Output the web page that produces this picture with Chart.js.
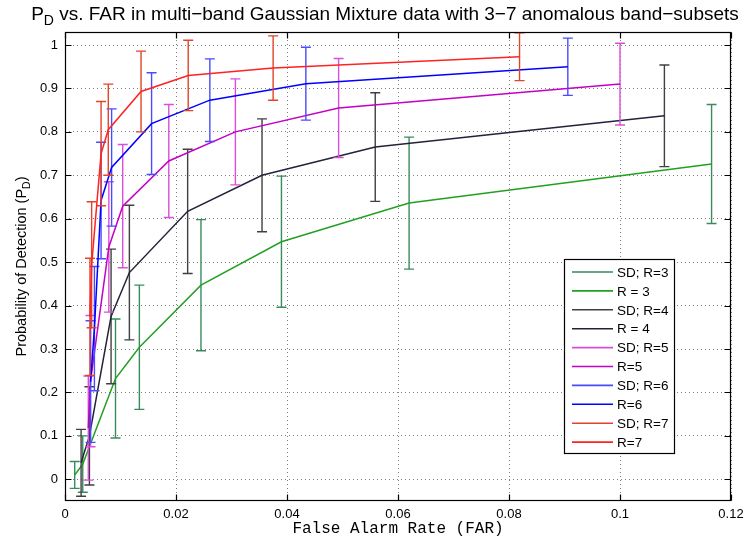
<!DOCTYPE html>
<html>
<head>
<meta charset="utf-8">
<script src="https://cdn.jsdelivr.net/npm/chart.js@4.4.0/dist/chart.umd.min.js"></script>
<style>
body { margin: 0; background: #fff; }
#wrap { width: 746px; height: 540px; }
</style>
</head>
<body>
<div id="wrap"><canvas id="myChart"></canvas></div>
<script>
// FAR (x), PD (y) and standard deviation for R = 3..7 anomalous band-subsets
const far3 = [0.00175, 0.0032, 0.0091, 0.0134, 0.0245, 0.039, 0.062, 0.1165];
const pd3  = [0.01, 0.035, 0.232, 0.304, 0.447, 0.547, 0.636, 0.726];
const sd3  = [0.031, 0.065, 0.137, 0.143, 0.151, 0.151, 0.152, 0.137];

const far4 = [0.0029, 0.0044, 0.0083, 0.0116, 0.0221, 0.0355, 0.0559, 0.108];
const pd4  = [0.038, 0.10, 0.375, 0.476, 0.617, 0.70, 0.765, 0.837];
const sd4  = [0.077, 0.113, 0.155, 0.155, 0.143, 0.13, 0.125, 0.117];

const far5 = [0.0042, 0.0046, 0.0079, 0.0104, 0.0187, 0.0307, 0.0493, 0.100];
const pd5  = [0.118, 0.226, 0.535, 0.629, 0.733, 0.80, 0.855, 0.91];
const sd5  = [0.12, 0.151, 0.15, 0.142, 0.13, 0.122, 0.114, 0.094];

const far6 = [0.0046, 0.0053, 0.0065, 0.0084, 0.0156, 0.0261, 0.0434, 0.0906];
const pd6  = [0.225, 0.347, 0.642, 0.718, 0.819, 0.873, 0.911, 0.95];
const sd6  = [0.14, 0.143, 0.134, 0.135, 0.117, 0.095, 0.084, 0.066];

const far7 = [0.0045, 0.0048, 0.0065, 0.0078, 0.0137, 0.0222, 0.0375, 0.0819];
const pd7  = [0.374, 0.494, 0.75, 0.805, 0.893, 0.93, 0.947, 0.973];
const sd7  = [0.135, 0.145, 0.12, 0.105, 0.093, 0.081, 0.074, 0.055];

const xTicks = [0, 0.02, 0.04, 0.06, 0.08, 0.1, 0.12];
const xTickLabels = ['0', '0.02', '0.04', '0.06', '0.08', '0.1', '0.12'];
const yTicks = [0, 0.1, 0.2, 0.3, 0.4, 0.5, 0.6, 0.7, 0.8, 0.9, 1];
const yTickLabels = ['0', '0.1', '0.2', '0.3', '0.4', '0.5', '0.6', '0.7', '0.8', '0.9', '1'];

const legendLabels = ['SD; R=3', 'R = 3', 'SD; R=4', 'R = 4', 'SD; R=5', 'R=5', 'SD; R=6', 'R=6', 'SD; R=7', 'R=7'];

const sdColors   = ['#3a8a5e', '#404040', '#d94fd9', '#4a4aff', '#e0452a'];
const lineColors = ['#22a022', '#22223a', '#c400c4', '#0000ff', '#ff2222'];

const series = [
  [far3, pd3, sd3], [far4, pd4, sd4], [far5, pd5, sd5], [far6, pd6, sd6], [far7, pd7, sd7]
];

var datasets = [];
series.forEach(function (s, k) {
  var pts = s[0].map(function (x, i) { return {x: x, y: s[1][i]}; });
  datasets.push({
    label: legendLabels[2 * k], data: pts, err: s[2], showLine: false, pointRadius: 0,
    borderColor: sdColors[k], order: 20 - 2 * k
  });
  datasets.push({
    label: legendLabels[2 * k + 1], data: pts, borderColor: lineColors[k], borderWidth: 1.5,
    pointRadius: 0, tension: 0, order: 19 - 2 * k
  });
});

const SANS = '"Liberation Sans", Arial, Helvetica, sans-serif';

// vertical error bars with small caps
const errorBars = {
  id: 'errorBars',
  afterDatasetDraw(chart, args) {
    const ds = chart.data.datasets[args.index];
    if (!ds.err) return;
    const xs = chart.scales.x, ys = chart.scales.y, c = chart.ctx;
    c.save();
    c.strokeStyle = ds.borderColor;
    c.lineWidth = 1.4;
    ds.data.forEach(function (p, i) {
      const px = xs.getPixelForValue(p.x);
      const top = ys.getPixelForValue(p.y + ds.err[i]);
      const bot = ys.getPixelForValue(p.y - ds.err[i]);
      c.beginPath();
      c.moveTo(px, top); c.lineTo(px, bot);
      c.moveTo(px - 5, top); c.lineTo(px + 5, top);
      c.moveTo(px - 5, bot); c.lineTo(px + 5, bot);
      c.stroke();
    });
    c.restore();
  }
};

// box, inward ticks, title, axis labels, legend
const frame = {
  id: 'frame',
  afterDraw(chart) {
    const c = chart.ctx, a = chart.chartArea;
    const xs = chart.scales.x, ys = chart.scales.y;
    c.save();
    c.strokeStyle = '#000';
    c.lineWidth = 1.2;
    const L = Math.round(a.left) + 0.5, R = Math.round(a.right) - 0.5;
    const T = Math.round(a.top) + 0.5, B = Math.round(a.bottom) - 0.5;
    c.strokeRect(L, T, R - L, B - T);
    c.beginPath();
    xTicks.forEach(function (v) {
      const px = Math.round(xs.getPixelForValue(v)) + 0.5;
      c.moveTo(px, B); c.lineTo(px, B - 6);
      c.moveTo(px, T); c.lineTo(px, T + 6);
    });
    yTicks.forEach(function (v) {
      const py = Math.round(ys.getPixelForValue(v)) + 0.5;
      c.moveTo(L, py); c.lineTo(L + 6, py);
      c.moveTo(R, py); c.lineTo(R - 6, py);
    });
    c.stroke();

    // title with subscript
    c.fillStyle = '#000';
    c.textBaseline = 'alphabetic';
    c.textAlign = 'left';
    const big = '19px ' + SANS, small = '14px ' + SANS;
    const rest = ' vs. FAR in multi\u2212band Gaussian Mixture data with 3\u22127 anomalous band\u2212subsets';
    c.font = big;
    const wP = c.measureText('P').width, wRest = c.measureText(rest).width;
    c.font = small;
    const wD = c.measureText('D').width;
    let tx = 385 - (wP + wD + wRest) / 2;
    const ty = 20;
    c.font = big; c.fillText('P', tx, ty); tx += wP;
    c.font = small; c.fillText('D', tx, ty + 5); tx += wD;
    c.font = big; c.fillText(rest, tx, ty);

    // x label
    c.font = '16px "Liberation Mono", "Courier New", monospace';
    c.textAlign = 'center';
    c.textBaseline = 'middle';
    c.fillText('False Alarm Rate (FAR)', (a.left + a.right) / 2, 529);

    // y label
    c.save();
    c.translate(22, (a.top + a.bottom) / 2);
    c.rotate(-Math.PI / 2);
    c.textAlign = 'left';
    c.textBaseline = 'middle';
    const yl1 = 'Probability of Detection (P', yl2 = 'D', yl3 = ')';
    const f14 = '14.5px ' + SANS, f10 = '10.5px ' + SANS;
    c.font = f14;
    const w1 = c.measureText(yl1).width, w3 = c.measureText(yl3).width;
    c.font = f10;
    const w2 = c.measureText(yl2).width;
    let lx = -(w1 + w2 + w3) / 2;
    c.font = f14; c.fillText(yl1, lx, 0); lx += w1;
    c.font = f10; c.fillText(yl2, lx, 5); lx += w2;
    c.font = f14; c.fillText(yl3, lx, 0);
    c.restore();

    // legend
    const bx = 564.5, by = 259.5, bw = 110, bh = 194;
    c.fillStyle = '#fff';
    c.fillRect(bx, by, bw, bh);
    c.strokeStyle = '#000';
    c.lineWidth = 1.2;
    c.strokeRect(bx, by, bw, bh);
    c.font = '13.5px ' + SANS;
    c.textAlign = 'left';
    c.textBaseline = 'middle';
    chart.data.datasets.forEach(function (ds, i) {
      const ly = 272 + i * 18.9;
      c.strokeStyle = ds.borderColor;
      c.lineWidth = 1.6;
      c.beginPath();
      c.moveTo(572, ly); c.lineTo(613, ly);
      c.stroke();
      c.fillStyle = '#000';
      c.fillText(ds.label, 617, ly + 1);
    });
    c.restore();
  }
};

const ctx = document.getElementById('myChart').getContext('2d');

const myChart = new Chart(ctx, {
  type: 'line',
  data: { datasets: datasets },
  options: {
    responsive: true,
    maintainAspectRatio: false,
    animation: false,
    layout: { padding: { top: 32, right: 15, left: 0, bottom: 0 } },
    plugins: { legend: { display: false }, tooltip: { enabled: false }, title: { display: false } },
    scales: {
      x: {
        type: 'linear', min: 0, max: 0.12,
        afterBuildTicks: function (s) { s.ticks = xTicks.map(function (v) { return {value: v}; }); },
        afterFit: function (s) { s.height = 39; s.paddingLeft = 0; s.paddingRight = 0; },
        ticks: {
          autoSkip: false, maxRotation: 0, padding: 6, color: '#000',
          font: { family: SANS, size: 13 },
          callback: function (v) { return xTickLabels[xTicks.indexOf(v)]; }
        },
        grid: { color: 'rgba(0,0,0,0.5)', drawTicks: false, lineWidth: 1 },
        border: { display: false, dash: [1, 3] }
      },
      y: {
        type: 'linear', min: -0.05, max: 1.03,
        afterBuildTicks: function (s) { s.ticks = yTicks.map(function (v) { return {value: v}; }); },
        afterFit: function (s) { s.width = 65; s.paddingTop = 0; s.paddingBottom = 0; },
        ticks: {
          autoSkip: false, padding: 7, color: '#000',
          font: { family: SANS, size: 13 },
          callback: function (v) { return yTickLabels[yTicks.indexOf(v)]; }
        },
        grid: { color: 'rgba(0,0,0,0.5)', drawTicks: false, lineWidth: 1 },
        border: { display: false, dash: [1, 3] }
      }
    }
  },
  plugins: [errorBars, frame]
});
</script>
</body>
</html>
